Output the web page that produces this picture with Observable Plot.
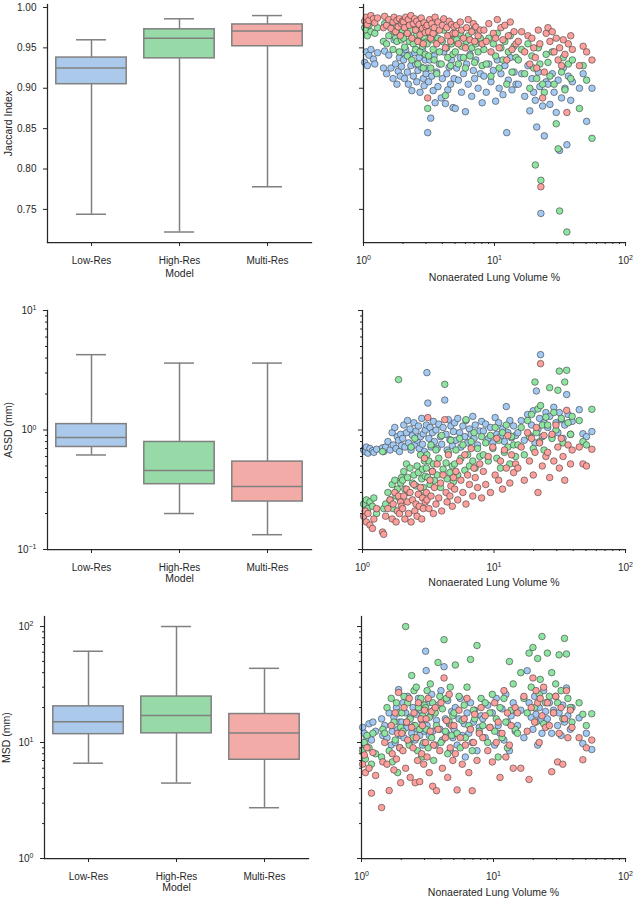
<!DOCTYPE html>
<html><head><meta charset="utf-8">
<script src="https://cdn.jsdelivr.net/npm/d3@7"></script>
<script src="https://cdn.jsdelivr.net/npm/@observablehq/plot@0.6"></script>
<style>
body{margin:0;background:#fff;}
#fig{position:relative;width:634px;height:900px;background:#fff;}
#fig > svg{position:absolute;}
</style></head><body><div id="fig"></div>
<script>
// ---------- categories & colours ----------
const models = ["Low-Res", "High-Res", "Multi-Res"];
const boxColors = ["#abc9ea", "#98daa7", "#f3aba8"];
const dotColors = ["#a1c9f4", "#8de5a1", "#ff9f9b"];

// ---------- tick values ----------
const jaccardTicks = [0.75, 0.80, 0.85, 0.90, 0.95, 1.00];
const assdTicks = [0.1, 1, 10];
const assdMinor = [0.2,0.3,0.4,0.5,0.6,0.7,0.8,0.9,2,3,4,5,6,7,8,9];
const msdTicks = [1, 10, 100];
const msdMinor = [2,3,4,5,6,7,8,9,20,30,40,50,60,70,80,90];
const volTicks = [1, 10, 100];
const volMinor = [2,3,4,5,6,7,8,9,20,30,40,50,60,70,80,90];

// ---------- box plot statistics (min, Q1, median, Q3, max) ----------
const jaccardMin = [0.744, 0.722, 0.778];
const jaccardQ1  = [0.905, 0.937, 0.952];
const jaccardMed = [0.925, 0.962, 0.971];
const jaccardQ3  = [0.938, 0.973, 0.979];
const jaccardMax = [0.960, 0.986, 0.990];

const assdMin = [0.618, 0.200, 0.133];
const assdQ1  = [0.721, 0.352, 0.252];
const assdMed = [0.865, 0.458, 0.337];
const assdQ3  = [1.12, 0.794, 0.544];
const assdMax = [4.27, 3.63, 3.63];

const msdMin = [6.63, 4.47, 2.74];
const msdQ1  = [11.8, 12.0, 7.10];
const msdMed = [15.1, 17.1, 12.1];
const msdQ3  = [20.5, 24.9, 17.6];
const msdMax = [61.2, 100, 43.6];

// ---------- per-patient nonaerated lung volume % ----------
const volume = [1.02,1.05,1.07,1.1,1.14,1.19,1.22,1.28,1.42,1.45,
1.5,1.56,1.62,1.68,1.71,1.76,1.8,1.84,1.88,1.91,1.95,1.98,
2.02,2.06,2.1,2.16,2.2,2.24,2.3,2.34,2.4,2.46,2.5,2.55,2.6,2.66,2.7,2.76,2.82,2.86,2.9,2.96,3.0,
3.06,3.09,3.14,3.2,3.26,3.32,3.4,3.46,3.52,3.62,3.7,3.8,3.92,4.0,4.1,4.22,4.32,4.4,4.5,4.62,4.7,4.82,4.92,
5.02,5.14,5.3,5.48,5.6,5.8,6.0,6.12,6.3,6.5,6.7,6.9,7.05,7.2,7.5,7.8,8.05,
8.3,8.65,9.05,9.4,9.8,10.2,10.5,10.85,11.2,11.6,12.0,12.4,12.75,13.2,13.6,14.1,14.6,
15.2,16.1,17.0,18.0,18.6,19.3,19.9,20.5,21.0,21.6,22.2,22.6,23.3,24.0,24.8,
25.6,26.5,27.6,28.5,29.6,30.6,31.4,32.5,33.5,34.5,35.7,36.6,38.2,39.3,
44.5,47.5,50.5,55.5];

// ---------- Jaccard index per patient ----------
const jaccardLow = [0.932,0.945,0.928,0.941,0.948,0.936,0.930,0.944,0.925,0.946,
0.918,0.941,0.925,0.912,0.960,0.930,0.905,0.921,0.938,0.915,0.927,0.944,
0.935,0.912,0.948,0.920,0.905,0.941,0.928,0.897,0.915,0.944,0.930,0.908,0.922,0.938,0.895,0.926,0.948,0.912,0.903,0.935,0.918,
0.925,0.845,0.908,0.935,0.863,0.915,0.897,0.940,0.882,0.920,0.902,0.930,0.888,0.912,0.945,0.881,0.918,0.898,0.926,0.905,0.935,0.876,0.912,
0.875,0.925,0.910,0.938,0.895,0.918,0.871,0.930,0.905,0.942,0.890,0.922,0.912,0.935,0.900,0.918,0.882,
0.915,0.895,0.930,0.908,0.922,0.884,0.935,0.900,0.918,0.892,0.928,0.845,0.910,0.938,0.898,0.920,0.905,
0.905,0.918,0.890,0.928,0.872,0.912,0.895,0.885,0.852,0.920,0.902,0.745,0.878,0.841,0.908,
0.905,0.880,0.918,0.895,0.870,0.910,0.823,0.888,0.925,0.900,0.830,0.915,0.885,0.908,
0.900,0.918,0.859,0.900];
const jaccardHigh = [0.975,0.972,0.965,0.978,0.970,0.982,0.968,0.975,0.958,0.980,
0.955,0.965,0.975,0.948,0.970,0.962,0.958,0.978,0.945,0.968,0.960,0.972,
0.962,0.951,0.975,0.940,0.968,0.958,0.972,0.935,0.955,0.978,0.948,0.966,0.930,0.960,0.945,0.970,0.952,0.925,0.963,0.942,0.957,
0.955,0.875,0.940,0.968,0.925,0.960,0.948,0.935,0.970,0.918,0.962,0.945,0.930,0.958,0.972,0.891,0.950,0.938,0.965,0.928,0.955,0.942,0.960,
0.945,0.960,0.930,0.968,0.952,0.938,0.925,0.958,0.965,0.940,0.950,0.972,0.932,0.955,0.945,0.962,0.928,
0.948,0.930,0.962,0.915,0.955,0.940,0.968,0.925,0.950,0.935,0.958,0.905,0.945,0.965,0.920,0.952,0.938,
0.935,0.948,0.918,0.955,0.900,0.940,0.925,0.805,0.912,0.950,0.930,0.786,0.905,0.895,0.942,
0.932,0.915,0.945,0.905,0.856,0.825,0.748,0.920,0.938,0.898,0.722,0.930,0.912,0.935,
0.875,0.928,0.910,0.838];
const jaccardMulti = [0.983,0.988,0.979,0.984,0.990,0.986,0.981,0.987,0.975,0.989,
0.978,0.985,0.974,0.982,0.988,0.970,0.984,0.976,0.986,0.965,0.980,0.983,
0.982,0.975,0.988,0.968,0.985,0.978,0.990,0.962,0.980,0.986,0.972,0.983,0.958,0.979,0.966,0.987,0.974,0.955,0.981,0.969,0.976,
0.978,0.888,0.970,0.985,0.962,0.980,0.968,0.975,0.988,0.955,0.982,0.972,0.960,0.978,0.986,0.950,0.975,0.965,0.983,0.958,0.979,0.968,0.976,
0.968,0.978,0.955,0.982,0.972,0.962,0.950,0.975,0.985,0.960,0.970,0.980,0.958,0.976,0.965,0.972,0.955,
0.972,0.958,0.980,0.945,0.968,0.962,0.985,0.950,0.975,0.960,0.978,0.935,0.965,0.982,0.948,0.970,0.955,
0.958,0.970,0.945,0.965,0.930,0.962,0.950,0.938,0.925,0.972,0.955,0.778,0.888,0.920,0.968,
0.975,0.958,0.970,0.945,0.962,0.935,0.950,0.928,0.960,0.942,0.870,0.955,0.965,0.948,
0.928,0.952,0.945,0.935];

// ---------- ASSD (mm) per patient ----------
const assdLow = [0.68,0.66,0.72,0.64,0.70,0.67,0.65,0.69,0.71,0.66,
0.72,0.80,0.68,0.95,0.75,1.05,0.70,0.88,0.82,0.66,0.92,0.74,
0.85,1.10,0.72,0.95,1.20,0.78,1.02,0.68,0.90,1.15,0.75,0.98,0.82,1.08,0.70,0.88,1.25,0.76,0.93,0.66,1.00,
1.10,3.02,1.68,0.85,1.05,0.72,0.95,1.18,0.80,1.00,0.70,1.12,0.88,0.76,1.05,1.78,0.92,0.68,1.22,0.83,1.08,0.74,0.97,
1.15,0.82,1.25,0.95,0.72,1.08,0.88,1.20,0.78,1.02,0.92,1.30,0.85,1.10,0.75,0.98,1.18,
0.98,1.12,0.85,1.05,0.78,1.27,0.92,1.15,0.88,1.02,0.80,1.57,0.95,1.20,0.86,1.08,0.90,
0.95,1.20,0.82,1.35,0.90,1.10,1.45,0.78,2.12,1.02,1.25,4.27,0.88,1.15,1.40,
1.05,1.30,0.88,1.55,1.15,0.95,1.40,1.22,0.85,1.10,1.98,1.35,0.92,1.18,
1.48,0.93,0.88,0.97];
const assdHigh = [0.24,0.21,0.26,0.22,0.25,0.23,0.27,0.20,0.66,0.22,
0.24,0.30,0.26,0.35,0.22,0.38,0.28,0.32,2.64,0.27,0.36,0.40,
0.38,0.45,0.32,0.52,0.40,0.30,0.48,0.72,0.36,0.42,0.85,0.34,0.50,0.44,0.29,0.62,0.39,0.47,0.33,0.55,0.41,
0.48,0.62,0.40,0.55,0.35,0.75,0.45,0.52,0.38,0.68,0.42,0.58,0.33,0.90,0.47,2.41,0.53,0.39,0.65,0.44,0.82,0.50,0.37,
0.52,0.68,0.42,0.85,0.58,0.75,0.46,1.22,0.62,0.50,0.80,0.55,0.95,0.48,0.70,0.60,0.88,
0.62,0.78,0.55,0.90,0.70,1.05,0.58,0.82,0.48,0.95,0.65,1.10,0.72,0.52,0.88,0.75,0.60,
0.75,1.05,0.62,1.20,0.88,1.35,0.70,2.52,0.95,1.50,0.80,1.60,1.10,0.68,1.28,
1.10,2.26,0.85,1.40,1.00,2.15,3.11,1.25,0.78,2.52,3.16,1.15,0.92,1.30,
1.20,0.80,0.75,1.49];
const assdMulti = [0.19,0.21,0.17,0.20,0.16,0.15,0.18,0.22,0.14,0.134,
0.19,0.22,0.26,0.18,0.24,0.30,0.17,0.21,0.28,0.20,0.25,0.23,
0.22,0.28,0.18,0.32,0.25,0.20,0.30,0.17,0.26,0.35,0.21,0.24,0.19,0.29,0.23,0.33,0.18,0.27,0.22,0.58,0.25,
0.30,0.26,1.27,0.22,0.38,0.28,0.45,0.20,0.33,0.24,0.52,0.27,0.36,0.21,0.42,1.22,0.30,0.25,0.62,0.28,0.34,0.23,0.40,
0.32,0.45,0.26,0.55,0.38,0.30,0.62,0.24,0.42,0.35,0.70,0.28,0.48,0.40,0.33,0.52,0.27,
0.45,0.35,0.60,0.30,0.72,0.42,0.85,0.38,0.55,0.32,0.68,0.48,0.90,0.36,0.62,0.44,0.52,
0.48,0.72,0.38,0.95,0.55,0.85,0.42,0.65,1.05,0.30,0.78,3.59,0.50,0.90,0.60,
0.65,0.40,0.92,0.55,1.10,0.72,0.48,0.85,0.60,0.38,1.46,0.75,0.52,0.68,
0.72,0.52,0.50,0.69];

// ---------- MSD (mm) per patient ----------
const msdLow = [13.5,12.0,9.5,11.0,14.5,10.5,15.0,12.5,16.0,11.5,
14.0,11.0,18.0,9.5,12.5,16.5,10.0,20.0,13.0,28.6,15.0,11.5,
15.0,22.0,11.0,18.0,13.5,25.0,9.8,16.5,12.0,20.0,14.0,10.5,17.5,13.0,24.0,11.5,19.0,15.5,9.5,21.0,12.5,
61.2,41.7,14.0,22.0,11.5,17.0,26.0,12.5,19.0,9.5,15.5,21.0,13.0,28.0,10.5,45.0,16.0,12.0,23.0,14.5,8.5,18.5,11.0,
13.0,20.0,9.5,16.0,24.0,11.5,14.5,7.5,18.0,12.0,22.0,10.0,15.0,19.0,8.5,13.5,17.0,
16.0,11.0,21.0,13.5,18.0,9.5,24.0,14.0,12.0,19.5,10.5,26.0,15.0,8.5,17.0,22.0,12.5,
14.0,19.0,11.0,41.6,22.0,16.5,13.0,25.0,17.5,9.5,20.0,15.5,12.0,28.0,18.5,
16.0,22.0,12.0,19.0,25.0,14.0,18.0,11.5,21.0,15.0,29.5,17.0,13.0,20.0,
16.3,9.8,12.0,8.7];
const msdHigh = [8.5,10.0,7.2,11.5,9.0,6.5,12.0,8.0,7.5,13.0,
12.0,20.0,8.5,24.0,6.8,15.0,10.5,22.0,5.5,18.0,9.0,13.5,
18.0,12.5,25.0,100.0,15.0,22.0,9.5,16.0,37.8,11.0,28.0,14.0,30.0,8.5,20.0,13.0,24.0,7.5,17.0,10.0,21.0,
20.0,13.0,28.0,9.0,16.5,32.0,11.0,22.0,7.0,18.0,14.0,49.0,25.0,10.0,19.5,77.0,12.5,24.0,8.0,15.0,30.0,11.5,17.0,
18.0,46.6,12.0,25.0,9.0,15.5,21.0,11.0,30.0,14.0,52.0,8.5,19.0,16.0,68.6,12.5,24.0,
14.0,22.0,10.0,18.0,26.0,12.5,16.0,7.5,20.0,11.0,24.0,15.0,9.0,49.9,19.0,32.0,13.0,
12.0,40.0,24.0,18.0,59.0,30.0,66.0,20.0,15.0,53.0,26.0,35.0,82.0,14.5,22.0,
59.0,25.0,40.0,18.0,32.0,22.0,57.0,28.0,16.0,79.0,58.0,24.0,20.0,15.0,
22.0,17.5,14.0,17.7];
const msdMulti = [6.5,7.8,5.5,9.0,6.0,3.66,8.2,5.2,2.75,6.8,
10.0,6.5,3.85,14.0,8.0,5.8,18.0,7.2,12.0,27.0,9.0,4.5,
12.0,8.5,20.0,6.0,15.0,10.5,24.0,5.0,13.5,9.0,18.0,4.5,11.0,7.0,22.0,4.6,16.0,8.0,14.0,6.5,19.0,
10.0,16.0,7.5,24.0,5.5,12.5,18.5,4.2,9.5,20.0,3.84,13.0,8.5,22.0,6.0,36.0,11.0,15.5,5.0,26.0,9.0,14.0,7.0,
14.0,8.0,3.9,19.0,11.0,6.5,16.0,9.5,24.0,5.5,13.0,3.84,10.0,17.5,7.0,12.0,20.0,
11.0,17.0,8.5,13.5,6.8,22.0,10.0,15.0,5.0,12.0,28.0,7.5,18.0,9.5,14.0,6.0,20.0,
18.0,6.0,25.0,12.5,4.8,20.0,36.0,15.0,28.0,22.0,10.0,24.0,17.0,30.0,13.5,
22.0,14.0,5.6,18.0,25.0,6.8,12.0,20.0,6.5,16.0,28.0,11.0,19.0,13.5,
11.0,7.1,9.0,10.5];

// ---------- drawing ----------
const FONT = "'Liberation Sans', Arial, Helvetica, sans-serif";
const INK = "#262626";
const GRAY = "#808080";
const fig = document.getElementById("fig");
const pow = d => "10^" + Math.round(Math.log10(d));

function supers(svg) {
  svg.querySelectorAll("text").forEach(t => {
    const m = /^10\^(-?\d+)$/.exec(t.textContent.trim());
    if (!m) return;
    while (t.firstChild) t.removeChild(t.firstChild);
    const ns = "http://www.w3.org/2000/svg";
    const a = document.createElementNS(ns, "tspan"); a.textContent = "10";
    const b = document.createElementNS(ns, "tspan"); b.textContent = m[1].replace("-", "\u2212");
    b.setAttribute("font-size", "7"); b.setAttribute("dy", "-0.5em");
    t.append(a, b);
  });
}
function place(svg, left, top) {
  svg.style.left = left + "px"; svg.style.top = top + "px";
  fig.appendChild(svg); supers(svg);
}
const style = {fontFamily: FONT, fontSize: "10px", color: INK, background: "transparent", overflow: "visible"};

function boxPanel(o) {
  const rows = models.map((m, i) => ({model: m, min: o.min[i], q1: o.q1[i], med: o.med[i], q3: o.q3[i], max: o.max[i], fill: boxColors[i]}));
  const lw = {stroke: GRAY, strokeWidth: 1.5};
  return Plot.plot({
    width: 317, height: 300, marginTop: o.mt, marginBottom: o.mb, marginLeft: o.ml, marginRight: o.mr,
    style,
    x: {type: "band", domain: models, padding: 0},
    y: o.y,
    color: {type: "identity"},
    marks: [
      Plot.ruleX(rows, {x: "model", y1: "min", y2: "q1", ...lw}),
      Plot.ruleX(rows, {x: "model", y1: "q3", y2: "max", ...lw}),
      Plot.tickY(rows, {x: "model", y: "min", insetLeft: 29, insetRight: 29, ...lw}),
      Plot.tickY(rows, {x: "model", y: "max", insetLeft: 29, insetRight: 29, ...lw}),
      Plot.barY(rows, {x: "model", y1: "q1", y2: "q3", fill: "fill", insetLeft: 8.8, insetRight: 8.8, ...lw}),
      Plot.tickY(rows, {x: "model", y: "med", insetLeft: 8.8, insetRight: 8.8, ...lw}),
      Plot.axisX({tickSize: 4, tickPadding: 10, label: null, stroke: INK, fill: INK}),
      Plot.axisY(o.ticks, {tickSize: 4, tickPadding: 7, tickFormat: o.fmt, label: null, stroke: INK, fill: INK}),
      o.minor ? Plot.axisY(o.minor, {tickSize: 2, tickFormat: () => "", label: null, stroke: INK}) : null,
      Plot.frame({anchor: "left", stroke: INK, strokeWidth: 1.25}),
      Plot.frame({anchor: "bottom", stroke: INK, strokeWidth: 1.25}),
      Plot.text([o.ylabel], {frameAnchor: "left", rotate: -90, dx: o.ldx, fontSize: 10.5, fill: INK, textAnchor: "middle", lineAnchor: "middle"}),
      Plot.text(["Model"], {frameAnchor: "bottom", dy: o.mdy, fontSize: 10.5, fill: INK, textAnchor: "middle", lineAnchor: "middle"})
    ]
  });
}

function scatterPanel(o) {
  const dots = o.series.map((vals, i) =>
    Plot.dot(vals.map((v, j) => ({vol: volume[j], v})), {x: "vol", y: "v", r: 3.3, fill: dotColors[i], stroke: "#3c3c3c", strokeWidth: 0.6}));
  return Plot.plot({
    width: 317, height: 300, marginTop: o.mt, marginBottom: o.mb, marginLeft: o.ml, marginRight: o.mr,
    style,
    x: {type: "log", domain: [1, 100]},
    y: o.y,
    marks: [
      ...dots,
      Plot.axisX(volTicks, {tickSize: 4, tickPadding: 10, tickFormat: pow, label: null, stroke: INK, fill: INK}),
      Plot.axisX(volMinor, {tickSize: 2, tickFormat: () => "", label: null, stroke: INK}),
      Plot.axisY(o.ticks, {tickSize: 4, tickFormat: () => "", label: null, stroke: INK}),
      o.minor ? Plot.axisY(o.minor, {tickSize: 2, tickFormat: () => "", label: null, stroke: INK}) : null,
      Plot.frame({anchor: "left", stroke: INK, strokeWidth: 1.25}),
      Plot.frame({anchor: "bottom", stroke: INK, strokeWidth: 1.25}),
      Plot.text(["Nonaerated Lung Volume %"], {frameAnchor: "bottom", dy: o.xdy, fontSize: 10.5, fill: INK, textAnchor: "middle", lineAnchor: "middle"})
    ]
  });
}

// Row 1: Jaccard
const yJ = {domain: [0.709, 1.0037]};
place(boxPanel({min: jaccardMin, q1: jaccardQ1, med: jaccardMed, q3: jaccardQ3, max: jaccardMax,
  y: yJ, ticks: jaccardTicks, fmt: d3.format(".2f"), ylabel: "Jaccard Index", ldx: -39, mdy: 31,
  mt: 4, mb: 58, ml: 47, mr: 6}), 0, 0);
place(scatterPanel({series: [jaccardLow, jaccardHigh, jaccardMulti], y: yJ, ticks: jaccardTicks,
  xdy: 35, mt: 4, mb: 58, ml: 46, mr: 9}), 317, 0);

// Row 2: ASSD
const yA = {type: "log", domain: [0.1, 10]};
place(boxPanel({min: assdMin, q1: assdQ1, med: assdMed, q3: assdQ3, max: assdMax,
  y: yA, ticks: assdTicks, minor: assdMinor, fmt: pow, ylabel: "ASSD (mm)", ldx: -39, mdy: 29.5,
  mt: 10, mb: 51, ml: 47, mr: 6}), 0, 300);
place(scatterPanel({series: [assdLow, assdHigh, assdMulti], y: yA, ticks: assdTicks, minor: assdMinor,
  xdy: 33.5, mt: 10, mb: 51, ml: 45, mr: 9}), 317, 300);

// Row 3: MSD
const yM = {type: "log", domain: [1, 122]};
place(boxPanel({min: msdMin, q1: msdQ1, med: msdMed, q3: msdQ3, max: msdMax,
  y: yM, ticks: msdTicks, minor: msdMinor, fmt: pow, ylabel: "MSD (mm)", ldx: -37.6, mdy: 29.5,
  mt: 16, mb: 42, ml: 44, mr: 9}), 0, 600);
place(scatterPanel({series: [msdLow, msdHigh, msdMulti], y: yM, ticks: msdTicks, minor: msdMinor,
  xdy: 34, mt: 16, mb: 42, ml: 44, mr: 9}), 317, 600);
</script></body></html>
